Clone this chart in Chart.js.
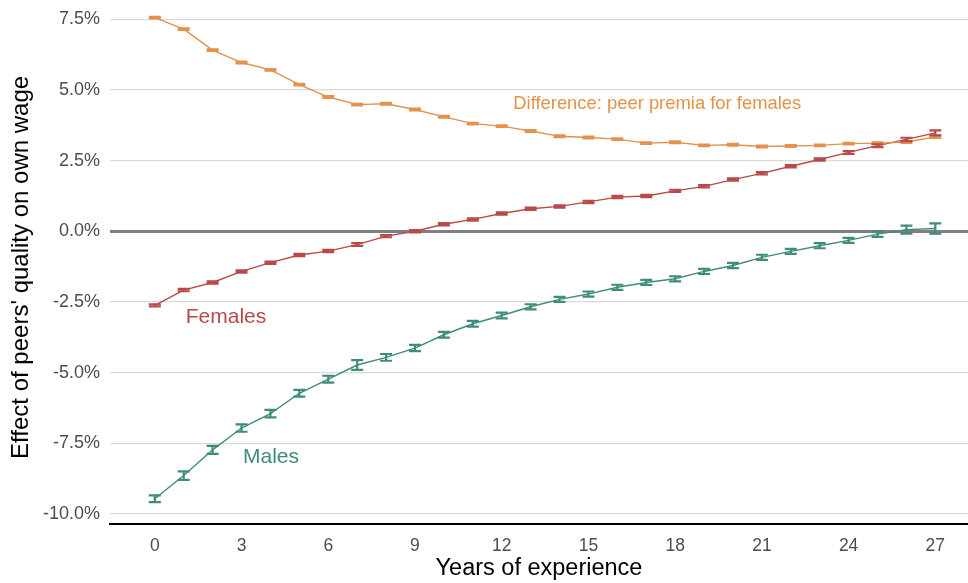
<!DOCTYPE html>
<html>
<head>
<meta charset="utf-8">
<script src="https://cdn.jsdelivr.net/npm/chart.js@4.4.1/dist/chart.umd.min.js"></script>
<style>
  html, body { margin: 0; padding: 0; background: #fff; }
</style>
</head>
<body>
<canvas id="peerChart" width="968" height="583"></canvas>
<script>
// years of experience
var years = [0, 1, 2, 3, 4, 5, 6, 7, 8, 9, 10, 11, 12, 13, 14, 15, 16, 17, 18, 19, 20, 21, 22, 23, 24, 25, 26, 27];

// effects in percent
var difference = [7.56, 7.15, 6.41, 5.97, 5.71, 5.19, 4.75, 4.48, 4.51, 4.31, 4.05, 3.81, 3.72, 3.55,
                  3.36, 3.32, 3.26, 3.12, 3.15, 3.04, 3.06, 3.00, 3.02, 3.04, 3.10, 3.12, 3.16, 3.34];
var females = [-2.62, -2.08, -1.81, -1.42, -1.11, -0.84, -0.70, -0.47, -0.17, 0.00, 0.25, 0.42, 0.63, 0.80,
               0.88, 1.04, 1.21, 1.25, 1.43, 1.59, 1.83, 2.05, 2.30, 2.54, 2.79, 3.03, 3.25, 3.48];
var males = [-9.46, -8.64, -7.73, -6.96, -6.45, -5.73, -5.23, -4.73, -4.46, -4.13, -3.66, -3.27, -2.98, -2.67,
             -2.41, -2.22, -1.98, -1.81, -1.68, -1.42, -1.21, -0.92, -0.71, -0.51, -0.32, -0.10, 0.06, 0.10];

// half width of the error bars
var differenceErr = [0.03, 0.03, 0.03, 0.03, 0.03, 0.03, 0.03, 0.03, 0.03, 0.03, 0.03, 0.03, 0.03, 0.03,
                     0.03, 0.03, 0.03, 0.03, 0.03, 0.03, 0.03, 0.03, 0.03, 0.03, 0.03, 0.03, 0.03, 0.04];
var femalesErr = [0.04, 0.04, 0.04, 0.04, 0.04, 0.04, 0.04, 0.05, 0.04, 0.04, 0.04, 0.04, 0.04, 0.04,
                  0.04, 0.04, 0.04, 0.04, 0.04, 0.04, 0.04, 0.04, 0.04, 0.04, 0.05, 0.05, 0.06, 0.09];
var malesErr = [0.12, 0.15, 0.14, 0.13, 0.13, 0.12, 0.12, 0.17, 0.12, 0.11, 0.10, 0.10, 0.10, 0.09,
                0.09, 0.09, 0.09, 0.09, 0.09, 0.09, 0.09, 0.09, 0.09, 0.09, 0.09, 0.10, 0.14, 0.18];

var xTicks = [0, 3, 6, 9, 12, 15, 18, 21, 24, 27];
var yTicks = [-10, -7.5, -5, -2.5, 0, 2.5, 5, 7.5];

var orange = '#e2924a';
var red = '#b84a49';
var green = '#3f8b7c';

function points(values) {
    return years.map(function (yr, i) { return { x: yr, y: values[i] }; });
}

// error bars drawn through the scales
var errorBars = {
    id: 'errorBars',
    afterDatasetsDraw: function (chart) {
        var ctx = chart.ctx, xs = chart.scales.x, ys = chart.scales.y;
        chart.data.datasets.forEach(function (ds) {
            ctx.save();
            ctx.strokeStyle = ds.borderColor;
            ctx.lineWidth = 2.2;
            ds.data.forEach(function (p, i) {
                var px = xs.getPixelForValue(p.x);
                var lo = ys.getPixelForValue(p.y - ds.err[i]);
                var hi = ys.getPixelForValue(p.y + ds.err[i]);
                ctx.beginPath();
                ctx.moveTo(px, lo); ctx.lineTo(px, hi);
                ctx.moveTo(px - 6, lo); ctx.lineTo(px + 6, lo);
                ctx.moveTo(px - 6, hi); ctx.lineTo(px + 6, hi);
                ctx.stroke();
            });
            ctx.restore();
        });
    }
};

// series names written next to the lines
var seriesLabels = {
    id: 'seriesLabels',
    afterDraw: function (chart) {
        var ctx = chart.ctx, xs = chart.scales.x, ys = chart.scales.y;
        var items = [
            { text: 'Difference: peer premia for females', x: 12.4, y: 4.5, size: 18.4, color: orange },
            { text: 'Females', x: 1.07, y: -3.04, size: 21, color: red },
            { text: 'Males', x: 3.05, y: -8.0, size: 21, color: green }
        ];
        ctx.save();
        ctx.textAlign = 'left';
        ctx.textBaseline = 'middle';
        items.forEach(function (it) {
            ctx.font = it.size + 'px "Liberation Sans", Arial, sans-serif';
            ctx.fillStyle = it.color;
            ctx.fillText(it.text, xs.getPixelForValue(it.x), ys.getPixelForValue(it.y));
        });
        ctx.restore();
    }
};

Chart.defaults.font.family = '"Liberation Sans", Arial, sans-serif';

var ctx = document.getElementById('peerChart').getContext('2d');
var peerChart = new Chart(ctx, {
    type: 'line',
    data: {
        datasets: [
            { label: 'Difference', data: points(difference), err: differenceErr, borderColor: orange, borderWidth: 1.4, pointRadius: 0 },
            { label: 'Females', data: points(females), err: femalesErr, borderColor: red, borderWidth: 1.4, pointRadius: 0 },
            { label: 'Males', data: points(males), err: malesErr, borderColor: green, borderWidth: 1.4, pointRadius: 0 }
        ]
    },
    options: {
        responsive: false,
        animation: false,
        layout: { padding: 0 },
        plugins: {
            legend: { display: false },
            tooltip: { enabled: false }
        },
        scales: {
            x: {
                type: 'linear',
                min: -1.55,
                max: 28.13,
                afterBuildTicks: function (scale) {
                    scale.ticks = xTicks.map(function (v) { return { value: v }; });
                },
                afterFit: function (scale) { scale.height = 59; },
                grid: { display: false, drawTicks: false },
                border: { display: true, color: '#000', width: 2 },
                ticks: { color: '#4d4d4d', font: { size: 17.5 }, padding: 12, maxRotation: 0 },
                title: { display: true, text: 'Years of experience', color: '#000', font: { size: 23.5 }, padding: { top: 0, bottom: 0 } }
            },
            y: {
                min: -10.354,
                max: 7.8,
                afterBuildTicks: function (scale) {
                    scale.ticks = yTicks.map(function (v) { return { value: v }; });
                },
                afterFit: function (scale) { scale.width = 110; },
                grid: {
                    drawTicks: true,
                    tickLength: 10,
                    tickColor: 'rgba(0,0,0,0)',
                    color: function (c) { return c.tick && c.tick.value === 0 ? '#808080' : '#d9d9d9'; },
                    lineWidth: function (c) { return c.tick && c.tick.value === 0 ? 3 : 1.3; }
                },
                border: { display: false },
                ticks: {
                    color: '#4d4d4d',
                    font: { size: 18 },
                    padding: 0,
                    callback: function (v) { return v.toFixed(1) + '%'; }
                },
                title: { display: true, text: "Effect of peers' quality on own wage", color: '#000', font: { size: 24 }, padding: { top: 7, bottom: 0 } }
            }
        }
    },
    plugins: [errorBars, seriesLabels]
});
</script>
</body>
</html>
